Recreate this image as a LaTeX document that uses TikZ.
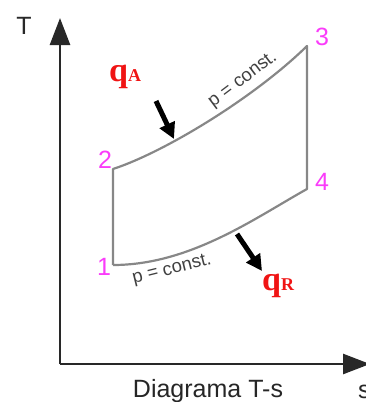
\documentclass[tikz,border=0pt]{standalone}
\usepackage{fontspec}
\setmainfont{Liberation Sans}
\newfontfamily\qfont{Liberation Serif}
\usetikzlibrary{arrows.meta}
\definecolor{ptpink}{RGB}{250,60,250}
\definecolor{cycgray}{RGB}{135,135,135}
\definecolor{axisgray}{RGB}{40,40,40}
\definecolor{qred}{RGB}{240,20,20}
\tikzset{
  axisline/.style={draw=axisgray,line width=2.6pt,-{Triangle[length=27pt,width=20pt]}},
  cycline/.style={draw=cycgray,line width=2.2pt,line join=round},
  ptlabel/.style={text=ptpink,font=\fontsize{25}{27}\selectfont,inner sep=0pt},
  pconst/.style={text=black!75,font=\fontsize{18.5}{20}\selectfont,inner sep=0pt},
  heatarrow/.style={draw=black,line width=5pt,-{Triangle[length=16pt,width=16pt]}},
  qlabel/.style={text=qred,font=\qfont\bfseries\fontsize{34}{36}\selectfont,inner sep=0pt,anchor=base west},
}
\begin{document}
\begin{tikzpicture}[x=1pt,y=-1pt]
\useasboundingbox (0,0) rectangle (366,402);
% axes
\coordinate (O) at (60,364);
\coordinate (Ttip) at (60,18);
\coordinate (Stip) at (370,364);
\draw[axisline] (O) -- (Ttip);
\draw[axisline] (O) -- (Stip);
\node[text=axisgray,font=\fontsize{25}{27}\selectfont,inner sep=0pt] (Tl) at (24,26) {T};
\node[text=axisgray,font=\fontsize{25}{27}\selectfont,inner sep=0pt,anchor=base west] (Sl) at (358,398) {s};
\node[text=black!85,font=\fontsize{25}{27}\selectfont,inner sep=0pt,anchor=base] (cap) at (208,397) {Diagrama T-s};
% cycle points
\coordinate (p1) at (113,265);
\coordinate (p2) at (113,169);
\coordinate (p3) at (307,46);
\coordinate (p4) at (307,189);
\draw[cycline] (p1) -- (p2) .. controls (165,152) and (255,97) .. (p3) -- (p4)
  .. controls (255,218) and (190,265) .. (p1);
% point labels
\node[ptlabel] (l1) at (104,267) {1};
\node[ptlabel] (l2) at (105,160) {2};
\node[ptlabel] (l3) at (322,37) {3};
\node[ptlabel] (l4) at (322,182) {4};
% p = const labels
\node[pconst,rotate=37] (pc1) at (243,80) {p = const.};
\node[pconst,rotate=14] (pc2) at (172,270) {p = const.};
% heat arrows
\coordinate (qa0) at (156,101);
\coordinate (qa1) at (174,139);
\draw[heatarrow] (qa0) -- (qa1);
\coordinate (qr0) at (237,234);
\coordinate (qr1) at (262,271);
\draw[heatarrow] (qr0) -- (qr1);
% q labels
\node[qlabel] (qA) at (109,81) {q\fontsize{18}{19}\selectfont A};
\node[qlabel] (qR) at (262,290) {q\fontsize{18}{19}\selectfont R};
\end{tikzpicture}
\end{document}
